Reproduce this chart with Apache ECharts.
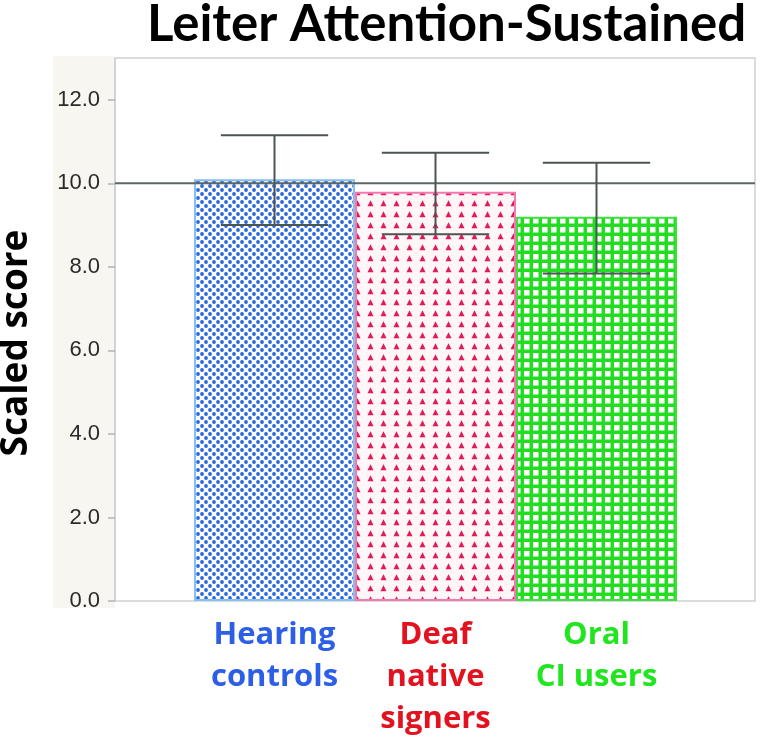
<!DOCTYPE html>
<html>
<head>
<meta charset="utf-8">
<script src="https://cdn.jsdelivr.net/npm/echarts@6/dist/echarts.min.js"></script>
<style>html,body{margin:0;padding:0;background:#fff;}#c{width:763px;height:740px;}</style>
</head>
<body>
<div id="c"></div>
<script>
// ---- Data ----
const categories = ['Hearing\ncontrols', 'Deaf\nnative\nsigners', 'Oral\nCI users'];
const meanScores = [10.1, 9.8, 9.2];
const errLow = [9.0, 8.78, 7.84];
const errHigh = [11.15, 10.73, 10.49];
const referenceValue = 10;
const yTicks = [0, 2, 4, 6, 8, 10, 12];
const titleText = 'Leiter Attention-Sustained';
const yAxisTitle = 'Scaled score';
const labelColors = ['#2d5fe6', '#e2121e', '#20e620'];

// ---- Patterns ----
function makeCanvas(w, h) { const c = document.createElement('canvas'); c.width = w; c.height = h; return c; }
function dotPattern() {
  const c = makeCanvas(8, 8), g = c.getContext('2d');
  g.fillStyle = '#ffffff'; g.fillRect(0, 0, 8, 8);
  g.fillStyle = '#2a66e0';
  [[2, 2], [6, 6]].forEach(p => { g.beginPath(); g.arc(p[0], p[1], 1.9, 0, Math.PI * 2); g.fill(); });
  return c;
}
function trianglePattern() {
  const c = makeCanvas(13, 11), g = c.getContext('2d');
  g.fillStyle = '#fff6f8'; g.fillRect(0, 0, 13, 11);
  g.fillStyle = '#e3195a';
  g.beginPath(); g.moveTo(6.5, 2.3); g.lineTo(9.5, 8.2); g.lineTo(3.5, 8.2); g.closePath(); g.fill();
  return c;
}
function gridPattern() {
  const c = makeCanvas(9, 9), g = c.getContext('2d');
  g.fillStyle = '#22dd22'; g.fillRect(0, 0, 9, 9);
  g.fillStyle = '#ffffff'; g.fillRect(2, 2, 5.5, 5.5);
  return c;
}
const patterns = [dotPattern(), trianglePattern(), gridPattern()];
const borderColors = ['#86bff0', '#f27ab0', '#3be03b'];

const chart = echarts.init(document.getElementById('c'));
const yMax = 13;
const option = {
  animation: false,
  backgroundColor: '#ffffff',
  title: {
    text: titleText, left: 142, top: -6,
    textStyle: { fontFamily: 'Lato', fontWeight: 'bold', fontSize: 51, color: '#000' }
  },
  graphic: [
    { type: 'rect', z: -10, shape: { x: 53, y: 56, width: 62, height: 552 }, style: { fill: '#f7f6f1' } },
    { type: 'text', z: 10, x: -2, y: 343, rotation: Math.PI / 2,
      style: { text: yAxisTitle, font: 'bold 37px "Open Sans"', fill: '#000', align: 'center', verticalAlign: 'top' } }
  ],
  grid: [
    { left: 115, top: 58, width: 640, height: 543, show: true, backgroundColor: '#fff', borderColor: '#cdd2d1', borderWidth: 1.5 },
    { left: 194, top: 58, width: 483, height: 543 }
  ],
  xAxis: [
    { type: 'value', gridIndex: 0, min: 0, max: 1, show: false },
    { type: 'category', gridIndex: 1, data: categories,
      axisLine: { show: false }, axisTick: { show: false },
      axisLabel: { margin: 13, fontFamily: 'Open Sans', fontWeight: 'bold', fontSize: 31, lineHeight: 42,
        color: (v, i) => labelColors[i], interval: 0 } }
  ],
  yAxis: [
    { type: 'value', gridIndex: 0, min: 0, max: yMax, interval: 2,
      axisLine: { show: true, lineStyle: { color: '#cdd2d1', width: 1.5 } },
      axisTick: { show: true, length: 7, lineStyle: { color: '#aeb4b3', width: 1.5 } },
      splitLine: { show: false },
      axisLabel: { showMaxLabel: false, margin: 15, fontFamily: 'Liberation Sans', fontSize: 22, color: '#2a2a2a',
        formatter: v => yTicks.includes(v) ? v.toFixed(1) : '' } },
    { type: 'value', gridIndex: 1, min: 0, max: yMax, show: false }
  ],
  series: [
    { type: 'line', xAxisIndex: 0, yAxisIndex: 0, data: [[0, referenceValue], [1, referenceValue]],
      symbol: 'none', lineStyle: { color: '#5d6664', width: 2 }, silent: true },
    { type: 'bar', xAxisIndex: 1, yAxisIndex: 1, barWidth: '100%',
      data: meanScores.map((v, i) => ({ value: v, itemStyle: {
        color: { image: patterns[i], repeat: 'repeat' }, borderColor: borderColors[i], borderWidth: 2 } })) },
    { type: 'custom', xAxisIndex: 1, yAxisIndex: 1, z: 5,
      data: errLow.map((lo, i) => [i, lo, errHigh[i]]),
      renderItem: function (params, api) {
        const x = api.coord([api.value(0), 0])[0];
        const lo = api.coord([api.value(0), api.value(1)]);
        const hi = api.coord([api.value(0), api.value(2)]);
        const halfCap = api.size([1, 0])[0] / 3;
        const st = { stroke: '#4b5553', lineWidth: 2 };
        return { type: 'group', children: [
          { type: 'line', shape: { x1: x, y1: hi[1], x2: x, y2: lo[1] }, style: st },
          { type: 'line', shape: { x1: x - halfCap, y1: hi[1], x2: x + halfCap, y2: hi[1] }, style: st },
          { type: 'line', shape: { x1: x - halfCap, y1: lo[1], x2: x + halfCap, y2: lo[1] }, style: st }
        ]};
      } }
  ]
};
chart.setOption(option);
</script>
</body>
</html>
